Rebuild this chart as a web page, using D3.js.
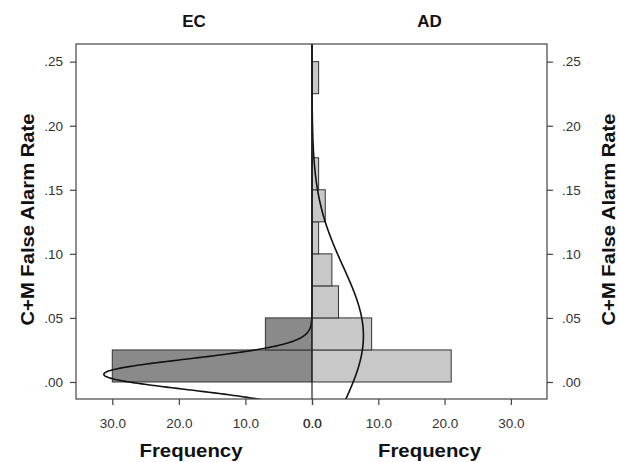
<!DOCTYPE html>
<html><head><meta charset="utf-8">
<script src="https://cdn.jsdelivr.net/npm/d3@7"></script>
<style>
body{margin:0;background:#fff;}
svg{display:block;font-family:"Liberation Sans",Arial,sans-serif;}
</style></head>
<body><svg id="c" width="618" height="462"></svg>
<script>
// ---- data ----
const binStarts = [0, 0.025, 0.05, 0.075, 0.10, 0.125, 0.15, 0.175, 0.20, 0.225];
const binWidth = 0.025;
const ecFreq = [30, 7, 0, 0, 0, 0, 0, 0, 0, 0];
const adFreq = [21, 9, 4, 3, 1, 2, 1, 0, 0, 1];
const groups = ["EC", "AD"];
const ecNormal = {mean: 0.006, sd: 0.0118};
const adNormal = {mean: 0.036, sd: 0.054};
const yTicks = [0, 0.05, 0.10, 0.15, 0.20, 0.25];
const yTickLabels = [".00", ".05", ".10", ".15", ".20", ".25"];
const xTicks = [0, 10, 20, 30];
const xTitle = "Frequency";
const yTitle = "C+M False Alarm Rate";

// ---- layout ----
const svg = d3.select("#c");
const L = 76, R = 547, T = 44, B = 399, C = 312;
const y = d3.scaleLinear().domain([-0.01328, 0.26378]).range([B, T]);
const xMax = 35.45;
const xl = d3.scaleLinear().domain([xMax, 0]).range([L, C]);
const xr = d3.scaleLinear().domain([0, xMax]).range([C, R]);

svg.append("defs").append("clipPath").attr("id","clip")
  .append("rect").attr("x",L).attr("y",T).attr("width",R-L).attr("height",B-T);

const plot = svg.append("g").attr("clip-path","url(#clip)");

// bars
const ecBins = binStarts.map((s,i)=>({s, f: ecFreq[i]})).filter(d=>d.f>0);
const adBins = binStarts.map((s,i)=>({s, f: adFreq[i]})).filter(d=>d.f>0);
plot.selectAll("rect.ec").data(ecBins).join("rect").attr("class","ec")
  .attr("x", d=>xl(d.f)).attr("width", d=>xl(0)-xl(d.f))
  .attr("y", d=>y(d.s+binWidth)).attr("height", d=>y(d.s)-y(d.s+binWidth))
  .attr("fill","#8a8a8a").attr("stroke","#333").attr("stroke-width",1);
plot.selectAll("rect.ad").data(adBins).join("rect").attr("class","ad")
  .attr("x", xr(0)).attr("width", d=>xr(d.f)-xr(0))
  .attr("y", d=>y(d.s+binWidth)).attr("height", d=>y(d.s)-y(d.s+binWidth))
  .attr("fill","#c8c8c8").attr("stroke","#333").attr("stroke-width",1);

// normal curves (fitted: N * binWidth * pdf)
function normalCurve(p, n){
  const k = n*binWidth/(p.sd*Math.sqrt(2*Math.PI));
  return d3.range(-0.02, 0.27, 0.0005).map(v=>({v, f: k*Math.exp(-0.5*((v-p.mean)/p.sd)**2)}));
}
const ecN = d3.sum(ecFreq), adN = d3.sum(adFreq);
plot.append("path").datum(normalCurve(ecNormal, ecN))
  .attr("d", d3.line().x(d=>xl(d.f)).y(d=>y(d.v)))
  .attr("fill","none").attr("stroke","#111").attr("stroke-width",1.6);
plot.append("path").datum(normalCurve(adNormal, adN))
  .attr("d", d3.line().x(d=>xr(d.f)).y(d=>y(d.v)))
  .attr("fill","none").attr("stroke","#111").attr("stroke-width",1.6);

// center line and frame
svg.append("line").attr("x1",C).attr("x2",C).attr("y1",T).attr("y2",B)
  .attr("stroke","#222").attr("stroke-width",1.2);
svg.append("rect").attr("x",L).attr("y",T).attr("width",R-L).attr("height",B-T)
  .attr("fill","none").attr("stroke","#444").attr("stroke-width",1.2);

// axes
function styleAxis(g){
  g.select(".domain").remove();
  g.selectAll(".tick line").attr("stroke","#444").attr("stroke-width",1.2);
  g.selectAll(".tick text").attr("fill","#333").style("font-size","13.5px")
   .style("font-family","'Liberation Sans',Arial,sans-serif");
}
svg.append("g").attr("transform",`translate(${L},0)`)
  .call(d3.axisLeft(y).tickValues(yTicks).tickFormat((d,i)=>yTickLabels[i]).tickSize(6).tickPadding(7))
  .call(styleAxis);
svg.append("g").attr("transform",`translate(${R},0)`)
  .call(d3.axisRight(y).tickValues(yTicks).tickFormat((d,i)=>yTickLabels[i]).tickSize(6).tickPadding(9))
  .call(styleAxis);
svg.append("g").attr("transform",`translate(0,${B})`)
  .call(d3.axisBottom(xl).tickValues(xTicks).tickFormat(d3.format(".1f")).tickSize(6).tickPadding(13))
  .call(styleAxis);
svg.append("g").attr("transform",`translate(0,${B})`)
  .call(d3.axisBottom(xr).tickValues(xTicks).tickFormat(d3.format(".1f")).tickSize(6).tickPadding(13))
  .call(styleAxis);

// titles
const titleFont = "'Liberation Sans',Arial,sans-serif";
svg.selectAll("text.grp").data(groups).join("text").attr("class","grp")
  .attr("x",(d,i)=> i===0 ? (L+C)/2 : (C+R)/2).attr("y",27)
  .attr("text-anchor","middle").style("font-size","17px").style("font-weight","bold")
  .style("font-family",titleFont).attr("fill","#111").text(d=>d);

[(L+C)/2 - 3, (C+R)/2].forEach(cx=>{
  svg.append("text").attr("x",cx).attr("y",457).attr("text-anchor","middle")
    .style("font-size","19px").style("font-weight","bold").style("font-family",titleFont)
    .attr("fill","#111").attr("textLength",103).attr("lengthAdjust","spacingAndGlyphs").text(xTitle);
});
[34, 615].forEach(bx=>{
  svg.append("text").attr("transform",`translate(${bx},${(T+B)/2 - 2}) rotate(-90)`)
    .attr("text-anchor","middle")
    .style("font-size","18px").style("font-weight","bold").style("font-family",titleFont)
    .attr("fill","#111").attr("textLength",212).attr("lengthAdjust","spacingAndGlyphs").text(yTitle);
});
</script></body></html>
